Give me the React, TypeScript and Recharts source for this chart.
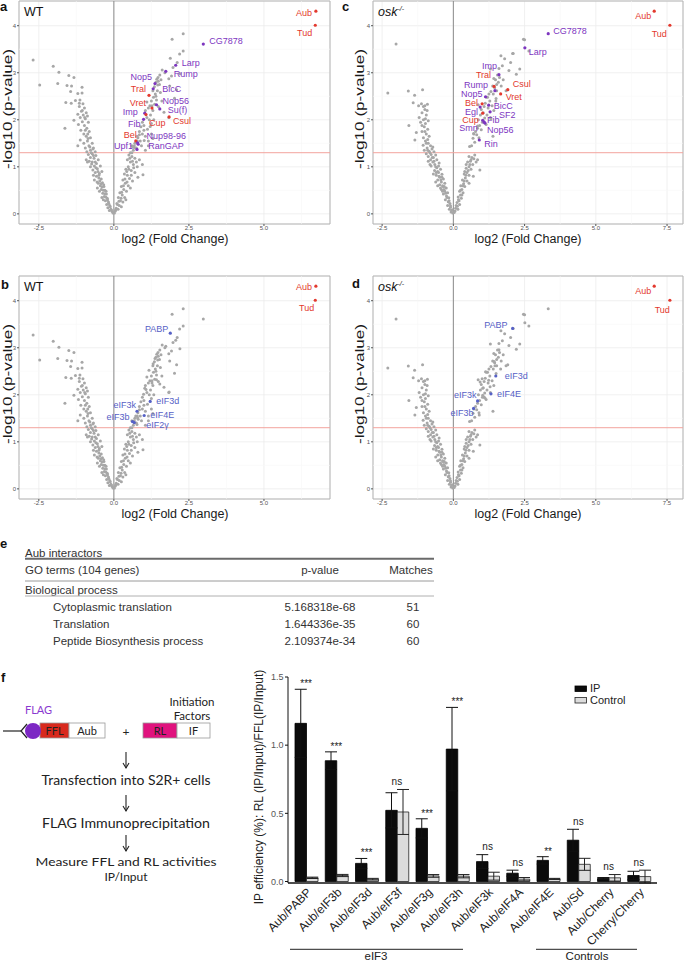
import React from 'react'
import {
  ScatterChart, Scatter, XAxis, YAxis, CartesianGrid, ReferenceLine, ReferenceArea,
  BarChart, Bar, ErrorBar, ReferenceDot,
} from 'recharts'

type Pt = [number, number]
type Named = { name: string; x: number; y: number; group: 'known' | 'novel' | 'factor' }
type LabelPos = [number, number, 'start' | 'end']

// ---- volcano data: [log2 fold change, -log10 p] ----
const wtBackground: Pt[] = [
  [-2.69, 3.27], [-2.47, 2.74], [-2.02, 3.14], [-1.83, 3.01], [-1.87, 2.77], [-1.5, 2.94], [-1.33, 2.9],
  [-1.56, 2.73], [-1.41, 2.72], [-1.06, 2.69], [-1.44, 2.6], [-1.2, 2.56], [-1.06, 2.57], [-1.6, 2.37],
  [-1.42, 2.35], [-1.28, 2.41], [-1.13, 2.42], [-1.03, 2.34], [-1.63, 1.82], [-1.33, 1.99],
  [-1.15, 2.28], [-0.98, 2.25], [-1.08, 2.18], [-0.92, 2.15], [-1.2, 2.12], [-1.02, 2.1], [-0.88, 2.08],
  [-1.12, 2.05], [-0.95, 2.02], [-1.05, 1.96], [-0.85, 1.95], [-1.18, 1.9], [-0.98, 1.88], [-0.9, 1.82],
  [-1.1, 1.78], [-0.82, 1.75], [-1.0, 1.7], [-0.92, 1.65], [-1.12, 1.57], [-0.78, 1.62], [-0.88, 1.55],
  [-1.0, 1.5], [-0.72, 1.5], [-0.83, 1.45], [-0.95, 1.4], [-0.68, 1.4], [-0.78, 1.35], [-0.9, 1.32],
  [-1.2, 1.45], [-0.62, 1.32], [-0.72, 1.28], [-0.85, 1.26], [-0.6, 1.24], [-0.78, 1.2], [-0.66, 1.18],
  [-0.52, 1.15], [-0.82, 1.12], [-0.72, 1.1], [-0.58, 1.07], [-0.65, 1.02], [-0.78, 1.0], [-0.45, 1.02],
  [-0.55, 0.96], [-0.7, 0.93], [-0.62, 0.88], [-0.48, 0.86], [-0.4, 0.9], [-0.58, 0.8], [-0.5, 0.76],
  [-0.42, 0.74], [-0.65, 0.72], [-0.38, 0.66], [-0.52, 0.65], [-0.45, 0.6], [-0.33, 0.58], [-0.42, 0.52],
  [-0.3, 0.5], [-0.48, 0.48], [-0.37, 0.44], [-0.25, 0.42], [-0.32, 0.37], [-0.22, 0.33], [-0.4, 0.35],
  [-0.28, 0.28], [-0.18, 0.25], [-0.24, 0.2], [-0.14, 0.18], [-0.2, 0.13], [-0.1, 0.1], [-0.15, 0.07],
  [-0.06, 0.05], [-0.03, 0.02], [-0.35, 0.3], [-0.55, 0.55], [-0.92, 1.15],
  [-0.12, 0.15], [-0.17, 0.22], [-0.21, 0.3], [-0.27, 0.36], [-0.3, 0.43], [-0.35, 0.5], [-0.39, 0.57],
  [-0.43, 0.64], [-0.47, 0.7], [-0.5, 0.82], [-0.53, 0.9], [-0.6, 0.98], [-0.62, 1.1], [-0.68, 1.24],
  [-0.75, 1.3], [-0.8, 1.42], [-0.86, 1.6], [-0.95, 1.78], [-1.05, 2.2], [-0.08, 0.08], [-0.26, 0.48],
  [-0.34, 0.62], [-0.56, 0.68], [-0.68, 0.82], [-0.74, 1.06], [-0.88, 1.1], [-0.7, 1.38], [-0.87, 1.7],
  [-0.97, 2.05], [-1.15, 2.35],
  [2.31, 3.83], [1.94, 3.71], [2.31, 3.46], [2.19, 3.4], [2.11, 3.22], [1.97, 3.11], [1.61, 3.06],
  [1.7, 3.0], [2.2, 2.98], [1.53, 2.95], [1.47, 2.9], [1.43, 2.86], [1.48, 2.82], [1.4, 2.8], [1.52, 2.75],
  [1.83, 2.87], [1.92, 2.93], [1.86, 2.72], [2.09, 2.64], [2.02, 2.46], [1.35, 2.7], [1.3, 2.62],
  [1.45, 2.62], [1.38, 2.55], [1.55, 2.58], [1.32, 2.48], [1.42, 2.42], [1.6, 2.4], [1.25, 2.4],
  [1.36, 2.33], [1.2, 2.3], [1.48, 2.28], [1.3, 2.2], [1.1, 2.38], [1.15, 2.25], [1.67, 2.16], [1.83, 2.05],
  [1.33, 2.0], [1.05, 2.2], [1.22, 2.1], [1.1, 2.05], [0.95, 1.95], [1.0, 1.88], [1.12, 1.8], [1.25, 1.92],
  [0.9, 1.85], [0.85, 1.75], [0.95, 1.7], [1.05, 1.65], [0.8, 1.62], [0.88, 1.55], [1.15, 1.55], [0.7, 1.5],
  [0.75, 1.4], [0.92, 1.45], [0.65, 1.35], [0.6, 1.45], [1.05, 1.35], [0.55, 1.3], [1.25, 1.7], [1.3, 1.6],
  [1.15, 1.45], [0.5, 1.25], [0.6, 1.22], [0.7, 1.18], [0.85, 1.15], [0.45, 1.15], [0.55, 1.1], [0.65, 1.05],
  [0.95, 1.05], [0.78, 1.0], [0.97, 0.83], [0.48, 1.0], [0.4, 0.95], [0.58, 0.92], [0.7, 0.88], [0.35, 0.85],
  [0.45, 0.82], [0.52, 0.75], [0.62, 0.7], [0.3, 0.72], [0.38, 0.65], [0.48, 0.6], [0.25, 0.58], [0.33, 0.52],
  [0.42, 0.48], [0.2, 0.45], [0.28, 0.4], [0.36, 0.35], [0.15, 0.35], [0.22, 0.28], [0.3, 0.25], [0.1, 0.22],
  [0.18, 0.18], [0.08, 0.12], [0.14, 0.1], [0.05, 0.06], [0.02, 0.02], [0.25, 0.15], [0.55, 0.55],
  [0.8, 0.78], [0.4, 0.3],
  [0.06, 0.09], [0.12, 0.2], [0.17, 0.27], [0.24, 0.33], [0.26, 0.46], [0.32, 0.6], [0.37, 0.74],
  [0.43, 0.9], [0.5, 0.95], [0.53, 1.18], [0.6, 1.3], [0.68, 1.45], [0.78, 1.55], [0.85, 1.68], [1.0, 1.78],
  [1.18, 2.0], [1.27, 2.3], [1.4, 2.5], [1.46, 2.74], [1.57, 2.85], [0.44, 0.68], [0.58, 0.82], [0.66, 0.98],
  [0.75, 1.1], [0.62, 1.12],
]

const oskBackground: Pt[] = [
  [-2.01, 3.61], [-2.3, 2.57], [-1.58, 2.61], [-1.08, 2.64], [-1.36, 2.52], [-1.41, 2.36], [-1.12, 2.34],
  [-0.91, 2.33], [-1.56, 1.88], [-1.0, 2.22], [-1.1, 2.15], [-0.95, 2.1], [-1.2, 2.05], [-1.05, 2.0],
  [-0.88, 1.98], [-1.3, 1.73], [-1.35, 1.57],
  [-1.05, 2.28], [-0.92, 2.2], [-1.15, 1.95], [-0.98, 1.92], [-1.02, 1.85], [-0.9, 1.8], [-1.1, 1.75],
  [-0.95, 1.7], [-1.05, 1.62], [-0.85, 1.65], [-0.98, 1.55], [-0.88, 1.5], [-1.06, 1.46], [-0.8, 1.45],
  [-0.92, 1.4], [-0.75, 1.38], [-1.02, 1.35], [-0.85, 1.33], [-0.68, 1.32], [-0.95, 1.28], [-0.78, 1.26],
  [-0.62, 1.25], [-0.88, 1.22], [-0.7, 1.2], [-0.8, 1.15], [-0.58, 1.15], [-0.72, 1.1], [-0.65, 1.05],
  [-0.5, 1.08], [-0.78, 1.02], [-0.58, 0.98], [-0.45, 0.95], [-0.66, 0.92], [-0.52, 0.88], [-0.4, 0.84],
  [-0.6, 0.82], [-0.48, 0.78], [-0.35, 0.74], [-0.55, 0.72], [-0.42, 0.68], [-0.3, 0.65], [-0.48, 0.62],
  [-0.36, 0.58], [-0.25, 0.55], [-0.42, 0.52], [-0.3, 0.48], [-0.2, 0.45], [-0.35, 0.42], [-0.24, 0.38],
  [-0.16, 0.34], [-0.28, 0.3], [-0.18, 0.26], [-0.12, 0.22], [-0.2, 0.18], [-0.1, 0.14], [-0.14, 0.1],
  [-0.06, 0.07], [-0.08, 0.04], [-0.02, 0.02], [-0.45, 0.55], [-0.62, 0.68], [-0.7, 0.85], [-0.38, 0.48],
  [-0.55, 0.6], [-0.82, 1.05],
  [-0.1, 0.17], [-0.15, 0.28], [-0.22, 0.35], [-0.27, 0.44], [-0.33, 0.52], [-0.38, 0.6], [-0.44, 0.72],
  [-0.5, 0.8], [-0.55, 0.9], [-0.62, 1.0], [-0.68, 1.12], [-0.74, 1.2], [-0.82, 1.3], [-0.9, 1.35],
  [-0.95, 1.5], [-1.0, 1.75], [-0.98, 2.02], [-1.0, 2.3], [-0.04, 0.09], [-0.32, 0.58], [-0.4, 0.78],
  [-0.6, 0.88], [-0.52, 1.02], [-0.88, 1.12], [-0.72, 1.42], [-0.9, 1.58], [-1.1, 1.88], [-1.22, 2.3],
  [0.55, 1.22], [0.65, 1.2], [0.72, 1.17], [0.6, 1.12], [0.5, 1.1], [0.68, 1.05], [0.8, 1.1], [0.55, 1.0],
  [0.45, 0.97], [0.62, 0.95], [0.93, 0.93], [0.48, 0.88], [0.38, 0.85], [0.55, 0.82], [0.42, 0.76],
  [0.32, 0.72], [0.48, 0.7], [0.36, 0.64], [0.26, 0.6], [0.4, 0.58], [0.3, 0.52], [0.22, 0.48], [0.34, 0.45],
  [0.25, 0.4], [0.17, 0.36], [0.28, 0.33], [0.2, 0.28], [0.13, 0.24], [0.22, 0.2], [0.14, 0.16], [0.08, 0.12],
  [0.16, 0.1], [0.06, 0.06], [0.03, 0.03], [0.7, 0.8], [0.85, 1.15],
  [0.1, 0.18], [0.18, 0.3], [0.25, 0.5], [0.33, 0.6], [0.38, 0.7], [0.44, 0.82], [0.52, 0.92], [0.58, 1.05],
  [0.62, 1.15], [0.45, 1.05], [0.75, 1.25], [0.3, 0.4], [0.4, 0.9], [0.55, 0.65],
  [0.57, 1.43], [0.69, 1.61], [0.98, 1.79], [1.39, 1.65], [1.1, 2.04], [0.75, 1.52], [0.82, 1.68],
  [0.9, 1.62], [0.78, 1.75], [0.92, 1.88], [1.02, 1.95], [1.15, 1.9], [0.88, 2.0], [1.18, 2.1], [1.05, 2.15],
  [0.98, 2.22], [1.22, 2.25], [1.3, 2.05], [1.12, 2.35], [1.28, 2.4], [1.36, 2.3], [1.2, 2.48], [1.4, 2.55],
  [1.32, 2.6], [1.45, 2.68], [1.52, 2.75], [1.48, 2.85], [1.58, 2.8], [1.62, 2.9], [1.55, 2.95], [1.68, 2.72],
  [1.75, 2.85], [1.3, 3.08], [1.6, 3.09], [2.01, 3.22], [1.95, 3.05], [2.21, 2.97], [2.33, 3.08], [2.1, 3.41],
  [1.67, 3.36], [2.46, 3.71], [2.5, 3.7], [2.65, 3.46], [1.16, 2.48], [0.87, 2.32], [1.72, 3.15],
  [1.8, 3.3], [1.5, 2.45], [1.85, 2.62], [1.42, 2.2],
  [0.64, 1.45], [0.72, 1.7], [0.85, 1.82], [0.95, 2.1], [1.08, 2.28], [1.25, 2.55], [1.38, 2.72],
  [1.42, 2.88], [1.52, 2.62],
]

const wtBaits: Named[] = [
  { name: 'Aub', x: 6.73, y: 4.31, group: 'known' },
  { name: 'Tud', x: 6.71, y: 4.01, group: 'known' },
]
const oskBaits: Named[] = [
  { name: 'Aub', x: 7.05, y: 4.31, group: 'known' },
  { name: 'Tud', x: 7.6, y: 4.01, group: 'known' },
]

const wtInteractors: Named[] = [
  { name: 'CG7878', x: 2.98, y: 3.61, group: 'novel' },
  { name: 'Larp', x: 2.06, y: 3.16, group: 'novel' },
  { name: 'Rump', x: 1.73, y: 3.03, group: 'novel' },
  { name: 'Nop5', x: 1.37, y: 2.77, group: 'novel' },
  { name: 'BicC', x: 1.31, y: 2.66, group: 'novel' },
  { name: 'Tral', x: 1.17, y: 2.52, group: 'known' },
  { name: 'Nop56', x: 1.42, y: 2.32, group: 'novel' },
  { name: 'Vret', x: 1.27, y: 2.25, group: 'known' },
  { name: 'Su(f)', x: 1.53, y: 2.23, group: 'novel' },
  { name: 'Imp', x: 1.03, y: 2.14, group: 'novel' },
  { name: 'Cup', x: 1.07, y: 2.11, group: 'known' },
  { name: 'Csul', x: 1.84, y: 2.06, group: 'known' },
  { name: 'Fib', x: 0.99, y: 2.01, group: 'novel' },
  { name: 'Bel', x: 0.73, y: 1.55, group: 'known' },
  { name: 'Nup98-96', x: 0.79, y: 1.51, group: 'novel' },
  { name: 'RanGAP', x: 0.81, y: 1.48, group: 'novel' },
  { name: 'Upf1', x: 0.77, y: 1.37, group: 'novel' },
]

const oskInteractors: Named[] = [
  { name: 'CG7878', x: 3.33, y: 3.83, group: 'novel' },
  { name: 'Larp', x: 2.51, y: 3.53, group: 'novel' },
  { name: 'Imp', x: 1.6, y: 2.96, group: 'novel' },
  { name: 'Tral', x: 1.43, y: 2.71, group: 'known' },
  { name: 'Rump', x: 1.46, y: 2.62, group: 'novel' },
  { name: 'Csul', x: 1.91, y: 2.64, group: 'known' },
  { name: 'Vret', x: 1.66, y: 2.55, group: 'known' },
  { name: 'Nop5', x: 1.13, y: 2.49, group: 'novel' },
  { name: 'Bel', x: 1.01, y: 2.34, group: 'known' },
  { name: 'BicC', x: 1.24, y: 2.31, group: 'novel' },
  { name: 'Egl', x: 0.94, y: 2.27, group: 'novel' },
  { name: 'SF2', x: 1.29, y: 2.17, group: 'novel' },
  { name: 'Cup', x: 1.03, y: 2.14, group: 'known' },
  { name: 'Smn', x: 1.03, y: 1.99, group: 'novel' },
  { name: 'Fib', x: 1.08, y: 1.95, group: 'novel' },
  { name: 'Nop56', x: 1.11, y: 1.93, group: 'novel' },
  { name: 'Rin', x: 0.91, y: 1.57, group: 'novel' },
]

const wtFactors: Named[] = [
  { name: 'PABP', x: 1.88, y: 3.31, group: 'factor' },
  { name: 'eIF3d', x: 1.21, y: 1.86, group: 'factor' },
  { name: 'eIF3k', x: 0.77, y: 1.65, group: 'factor' },
  { name: 'eIF4E', x: 1.01, y: 1.56, group: 'factor' },
  { name: 'eIF3b', x: 0.62, y: 1.43, group: 'factor' },
  { name: 'eIF2γ', x: 0.68, y: 1.41, group: 'factor' },
]

const oskFactors: Named[] = [
  { name: 'PABP', x: 2.08, y: 3.41, group: 'factor' },
  { name: 'eIF3d', x: 1.49, y: 2.4, group: 'factor' },
  { name: 'eIF4E', x: 1.32, y: 2.02, group: 'factor' },
  { name: 'eIF3k', x: 0.85, y: 1.87, group: 'factor' },
  { name: 'eIF3b', x: 0.71, y: 1.71, group: 'factor' },
]

const wtXTicks = [-2.5, 0, 2.5, 5]
const oskXTicks = [-2.5, 0, 2.5, 5, 7.5]
const minorXTicks = [-1.25, 1.25, 3.75, 6.25]
const pTicks = [0, 1, 2, 3, 4]
const minorPTicks = [0.5, 1.5, 2.5, 3.5]
const pCutoff = 1.3

// ---- bar chart data (panel f) ----
const barCategories = [
  'Aub/PABP', 'Aub/eIF3b', 'Aub/eIF3d', 'Aub/eIF3f', 'Aub/eIF3g', 'Aub/eIF3h',
  'Aub/eIF3k', 'Aub/eIF4A', 'Aub/eIF4E', 'Aub/Sd', 'Aub/Cherry', 'Cherry/Cherry',
]
const ipValues = [1.16, 0.886, 0.133, 0.522, 0.39, 0.971, 0.146, 0.061, 0.155, 0.303, 0.022, 0.044]
const ipErrors = [0.25, 0.065, 0.036, 0.129, 0.07, 0.306, 0.051, 0.022, 0.027, 0.08, 0.007, 0.031]
const controlValues = [0.027, 0.044, 0.017, 0.51, 0.041, 0.039, 0.039, 0.017, 0.019, 0.126, 0.027, 0.036]
const controlErrors = [0.005, 0.008, 0.006, 0.165, 0.01, 0.012, 0.029, 0.012, 0.004, 0.044, 0.024, 0.047]
const significance = ['***', '***', '***', 'ns', '***', '***', 'ns', 'ns', '**', 'ns', 'ns', 'ns']
const efficiencyTicks = [0, 0.5, 1, 1.5]

// ---- table data (panel e) ----
const goTerms = ['Cytoplasmic translation', 'Translation', 'Peptide Biosynthesis process']
const goPValues = ['5.168318e-68', '1.644336e-35', '2.109374e-34']
const goMatches = [51, 60, 60]

// label placement (px offsets from the dot), kept apart from the data
const labelsA: Record<string, LabelPos> = {
  Aub: [-4, 5, 'end'], Tud: [-3, 11, 'end'], CG7878: [6, 0, 'start'], Larp: [6, 1, 'start'],
  Rump: [8, 6, 'start'], Nop5: [-3, -4, 'end'], BicC: [9, 3, 'start'], Tral: [-3, -3, 'end'],
  Nop56: [6, -1, 'start'], Vret: [-6, -2, 'end'], 'Su(f)': [8, 4, 'start'], Imp: [-7, 2, 'end'],
  Cup: [3, 11, 'start'], Csul: [4, 7, 'start'], Fib: [-3, 8, 'end'], Bel: [1, -3, 'end'],
  'Nup98-96': [9, -4, 'start'], RanGAP: [10, 5, 'start'], Upf1: [-4, 0, 'end'],
}
const labelsC: Record<string, LabelPos> = {
  Aub: [-3, 8, 'end'], Tud: [-3, 12, 'end'], CG7878: [5, 0, 'start'], Larp: [4, 7, 'start'],
  Imp: [-2, -6, 'end'], Tral: [-3, -8, 'end'], Rump: [-7, -3, 'end'], Csul: [5, -3, 'start'],
  Vret: [5, 6, 'start'], Nop5: [-3, 0, 'end'], Bel: [-4, 2, 'end'], BicC: [5, 4, 'start'],
  Egl: [-2, 8, 'end'], SF2: [9, 6, 'start'], Cup: [-4, 10, 'end'], Fib: [3, 1, 'start'],
  Smn: [-5, 11, 'end'], Nop56: [2, 10, 'start'], Rin: [5, 7, 'start'],
}
const labelsB: Record<string, LabelPos> = {
  Aub: [-4, 4, 'end'], Tud: [-1, 11, 'end'], PABP: [-2, -1, 'end'], eIF3d: [6, 3, 'start'],
  eIF3k: [-1, -3, 'end'], eIF4E: [6, 3, 'start'], eIF3b: [-3, -2, 'end'], 'eIF2γ': [12, 5, 'start'],
}
const labelsD: Record<string, LabelPos> = {
  Aub: [-3, 8, 'end'], Tud: [0, 13, 'end'], PABP: [-5, 0, 'end'], eIF3d: [9, 3, 'start'],
  eIF4E: [6, 3, 'start'], eIF3k: [-1, -3, 'end'], eIF3b: [0, 8, 'end'],
}

const groupColor = { known: '#e3392e', novel: '#7d36bf', factor: '#5661c6' }
const sans = '"Liberation Sans", Arial, sans-serif'
const yDomain: [number, number] = [-0.2155, 4.5255]

type VolcanoProps = {
  left: number; top: number; width: number; axisWidth: number; rightPad: number
  xDomain: [number, number]; xTicks: number[]
  background: Pt[]; muted: Named[]; shown: Named[]; labels: Record<string, LabelPos>
}

function Volcano({ left, top, width, axisWidth, rightPad, xDomain, xTicks, background, muted, shown, labels }: VolcanoProps) {
  const gray = [...background.map(([x, y]) => ({ x, y })), ...muted.map((p) => ({ x: p.x, y: p.y }))]
  const grayDot = (p: any) => <circle cx={p.cx} cy={p.cy} r={1.5} fill="#a7a7a7" />
  const namedDot = (p: any) => {
    const n: Named = p.payload
    const [dx, dy, anchor] = labels[n.name] || [5, 3, 'start']
    const c = groupColor[n.group]
    return (
      <g>
        <circle cx={p.cx} cy={p.cy} r={1.6} fill={c} />
        <text x={p.cx + dx} y={p.cy + dy} textAnchor={anchor} fontSize={9} fill={c} fontFamily={sans}>{n.name}</text>
      </g>
    )
  }
  return (
    <div style={{ position: 'absolute', left, top }}>
      <ScatterChart width={width} height={250} margin={{ top: 1, right: rightPad, bottom: 0, left: 0 }}>
        <CartesianGrid stroke="#ececec" strokeWidth={0.8} />
        {minorXTicks.map((v) => <ReferenceLine key={'mx' + v} x={v} stroke="#f6f6f6" strokeWidth={0.6} />)}
        {minorPTicks.map((v) => <ReferenceLine key={'my' + v} y={v} stroke="#f6f6f6" strokeWidth={0.6} />)}
        <XAxis type="number" dataKey="x" domain={xDomain} ticks={xTicks} interval={0} height={26}
          tickFormatter={(v: number) => v.toFixed(1)} axisLine={false} tickSize={2} tickMargin={0}
          tickLine={{ stroke: '#555' }} tick={{ fontSize: 6, fill: '#555' }} />
        <YAxis type="number" dataKey="y" domain={yDomain} ticks={pTicks} interval={0} width={axisWidth}
          axisLine={false} tickSize={2} tickMargin={1} tickLine={{ stroke: '#555' }} tick={{ fontSize: 6, fill: '#555' }} />
        <ReferenceLine x={0} stroke="#8c8c8c" strokeWidth={1} />
        <ReferenceLine y={pCutoff} stroke="#f3a49e" strokeWidth={1} />
        <Scatter data={gray} shape={grayDot} isAnimationActive={false} />
        <Scatter data={shown} shape={namedDot} isAnimationActive={false} />
        <ReferenceArea x1={xDomain[0]} x2={xDomain[1]} y1={yDomain[0]} y2={yDomain[1]} fill="none"
          fillOpacity={0} stroke="#b5b5b5" strokeWidth={1} ifOverflow="visible" />
      </ScatterChart>
    </div>
  )
}

function AngledTick(props: any) {
  const { x, y, payload } = props
  const tx = x + 6
  const ty = y + 10
  return (
    <text x={tx} y={ty} transform={`rotate(-45 ${tx} ${ty})`} textAnchor="end" fontSize={12} fill="#222" fontFamily={sans}>
      {payload.value}
    </text>
  )
}

function SigLabel(props: any) {
  const { viewBox, text } = props
  const cx = viewBox.x + (viewBox.width || 0) / 2
  const cy = viewBox.y + (viewBox.height || 0) / 2
  const off = text === 'ns' ? 4.5 : 2
  return <text x={cx} y={cy - off} textAnchor="middle" fontSize={10} fill="#222" fontFamily={sans}>{text}</text>
}

function Arrow({ x, y1, y2 }: { x: number; y1: number; y2: number }) {
  return (
    <g stroke="#222" strokeWidth={1.1} fill="none">
      <line x1={x} y1={y1} x2={x} y2={y2} />
      <path d={`M${x - 3} ${y2 - 5} L${x} ${y2} L${x + 3} ${y2 - 5}`} />
    </g>
  )
}

export default function App() {
  const barData = barCategories.map((name, i) => ({
    name, ip: ipValues[i], ipErr: ipErrors[i], control: controlValues[i], controlErr: controlErrors[i],
  }))
  const lato = 'Lato, "Open Sans", sans-serif'
  const tableRows = [610.5, 627.5, 645]

  return (
    <div style={{ position: 'absolute', left: 0, top: 0, width: 685, height: 963, background: '#fff', fontFamily: sans, overflow: 'hidden' }}>
      <Volcano left={0} top={0} width={335} axisWidth={19} rightPad={5} xDomain={[-3.16, 7.2]} xTicks={wtXTicks}
        background={wtBackground} muted={wtFactors} shown={[...wtBaits, ...wtInteractors]} labels={labelsA} />
      <Volcano left={340} top={0} width={345} axisWidth={33} rightPad={2} xDomain={[-2.82, 8.06]} xTicks={oskXTicks}
        background={oskBackground} muted={oskFactors} shown={[...oskBaits, ...oskInteractors]} labels={labelsC} />
      <Volcano left={0} top={275} width={335} axisWidth={19} rightPad={5} xDomain={[-3.16, 7.2]} xTicks={wtXTicks}
        background={wtBackground} muted={wtInteractors} shown={[...wtBaits, ...wtFactors]} labels={labelsB} />
      <Volcano left={340} top={275} width={345} axisWidth={33} rightPad={2} xDomain={[-2.82, 8.06]} xTicks={oskXTicks}
        background={oskBackground} muted={oskInteractors} shown={[...oskBaits, ...oskFactors]} labels={labelsD} />

      <div style={{ position: 'absolute', left: 240, top: 660 }}>
        <BarChart width={445} height={303} data={barData} margin={{ top: 17, right: 28, bottom: 0, left: 0 }} barGap={0} barSize={11.5}>
          <XAxis dataKey="name" height={80} interval={0} tick={<AngledTick />} tickLine={false} tickSize={0} tickMargin={0}
            axisLine={{ stroke: '#111', strokeWidth: 1.3 }} padding={{ left: 3, right: 3 }} />
          <YAxis domain={[0, 1.5]} ticks={efficiencyTicks} interval={0} tickFormatter={(v: number) => v.toFixed(1)} width={48}
            axisLine={{ stroke: '#111' }} tickLine={{ stroke: '#111' }} tickSize={3} tickMargin={1.5} tick={{ fontSize: 9, fill: '#555' }} />
          <Bar dataKey="ip" fill="#0b0b0b" stroke="#000" strokeWidth={0.8} isAnimationActive={false}>
            <ErrorBar dataKey="ipErr" width={6} stroke="#111" strokeWidth={1} />
          </Bar>
          <Bar dataKey="control" fill="#dcdcdc" stroke="#222" strokeWidth={0.8} isAnimationActive={false}>
            <ErrorBar dataKey="controlErr" width={6} stroke="#222" strokeWidth={1} />
          </Bar>
          {barData.map((d, i) => (
            <ReferenceDot key={d.name} x={d.name} y={Math.max(d.ip + d.ipErr, d.control + d.controlErr)} r={0}
              fill="none" stroke="none" ifOverflow="visible" label={<SigLabel text={significance[i]} />} />
          ))}
        </BarChart>
      </div>

      <svg width={685} height={963} style={{ position: 'absolute', left: 0, top: 0, pointerEvents: 'none' }}>
        {/* panel letters */}
        <g fontWeight="bold" fontSize={13} fill="#111" fontFamily={sans}>
          <text x={0} y={10.5}>a</text>
          <text x={342} y={10.5}>c</text>
          <text x={1} y={289}>b</text>
          <text x={352} y={288}>d</text>
          <text x={0} y={548}>e</text>
          <text x={1} y={681.5}>f</text>
        </g>
        {/* genotype tags */}
        <g fontSize={12.5} fill="#111" fontFamily={sans}>
          <text x={24} y={15.5}>WT</text>
          <text x={24} y={290.5}>WT</text>
          <text x={378} y={15.5} fontStyle="italic">osk<tspan fontSize={7} dy={-5}>-/-</tspan></text>
          <text x={378} y={290.5} fontStyle="italic">osk<tspan fontSize={7} dy={-5}>-/-</tspan></text>
        </g>
        {/* volcano axis titles */}
        <g fontSize={12.5} fill="#1a1a1a" fontFamily={sans} textAnchor="middle">
          <text x={175} y={243}>log2 (Fold Change)</text>
          <text x={528} y={243}>log2 (Fold Change)</text>
          <text x={175} y={518}>log2 (Fold Change)</text>
          <text x={528} y={518}>log2 (Fold Change)</text>
          {[[7.5, 109], [359, 109], [7.5, 384], [359, 384]].map(([cx, cy]) => (
            <text key={cx + '-' + cy} transform={`translate(${cx} ${cy}) rotate(-90)`} y={4.5}
              textLength={120} lengthAdjust="spacingAndGlyphs">-log10 (p-value)</text>
          ))}
        </g>

        {/* panel e table */}
        <g fontSize={11.5} fill="#333" fontFamily={sans}>
          <text x={25} y={556.5}>Aub interactors</text>
          <line x1={25} x2={434} y1={558.8} y2={558.8} stroke="#6a6a6a" strokeWidth={2} />
          <text x={25} y={574}>GO terms (104 genes)</text>
          <text x={320} y={574} textAnchor="middle">p-value</text>
          <text x={411} y={574} textAnchor="middle">Matches</text>
          <line x1={25} x2={434} y1={581} y2={581} stroke="#9a9a9a" strokeWidth={1} />
          <text x={25} y={593.5}>Biological process</text>
          <line x1={25} x2={434} y1={596} y2={596} stroke="#b0b0b0" strokeWidth={1} />
          {goTerms.map((t, i) => (
            <g key={t}>
              <text x={53} y={tableRows[i]}>{t}</text>
              <text x={320} y={tableRows[i]} textAnchor="middle">{goPValues[i]}</text>
              <text x={413} y={tableRows[i]} textAnchor="middle">{goMatches[i]}</text>
            </g>
          ))}
        </g>

        {/* panel f schematic */}
        <g fontFamily={lato} fill="#222">
          <text x={25} y={714} fontSize={11} fill="#8a3ad0">FLAG</text>
          <g stroke="#222" strokeWidth={1.2} fill="none">
            <line x1={3} y1={731} x2={21} y2={731} />
            <path d="M27 724 L21 731 L27 738" />
          </g>
          <rect x={40} y={723} width={29} height={15} fill="#d8291d" stroke="#999" strokeWidth={0.8} />
          <rect x={69} y={723} width={36} height={15} fill="#fff" stroke="#999" strokeWidth={0.8} />
          <circle cx={33} cy={731} r={8} fill="#7c27c4" />
          <text x={54.5} y={735} fontSize={11} textAnchor="middle">FFL</text>
          <text x={87} y={735} fontSize={11} textAnchor="middle">Aub</text>
          <text x={126} y={736} fontSize={12} textAnchor="middle">+</text>
          <text x={192} y={706} fontSize={11.5} textAnchor="middle">Initiation</text>
          <text x={192} y={720} fontSize={11.5} textAnchor="middle">Factors</text>
          <rect x={143} y={723} width={34} height={15} fill="#e0137e" stroke="#999" strokeWidth={0.8} />
          <rect x={177} y={723} width={33} height={15} fill="#fff" stroke="#999" strokeWidth={0.8} />
          <text x={160} y={735} fontSize={11} textAnchor="middle">RL</text>
          <text x={193.5} y={735} fontSize={11} textAnchor="middle">IF</text>
          <Arrow x={126} y1={752} y2={768} />
          <text x={126} y={785} fontSize={13} textAnchor="middle" textLength={169} lengthAdjust="spacingAndGlyphs">Transfection into S2R+ cells</text>
          <Arrow x={126} y1={795} y2={811} />
          <text x={126} y={828} fontSize={13} textAnchor="middle" textLength={168} lengthAdjust="spacingAndGlyphs">FLAG Immunoprecipitation</text>
          <Arrow x={126} y1={835} y2={851} />
          <text x={126} y={866} fontSize={12} textAnchor="middle" textLength={181} lengthAdjust="spacingAndGlyphs">Measure FFL and RL activities</text>
          <text x={126} y={880.5} fontSize={12} textAnchor="middle">IP/Input</text>
        </g>

        {/* bar chart extras */}
        <g fontFamily={sans} fill="#222">
          <text transform="translate(259 787) rotate(-90)" y={4} fontSize={12} textAnchor="middle">IP efficiency (%): RL (IP/Input)/FFL(IP/Input)</text>
          <rect x={575} y={686} width={11.5} height={5.5} fill="#0b0b0b" stroke="#000" strokeWidth={0.8} />
          <text x={590} y={692} fontSize={11}>IP</text>
          <rect x={575} y={697.5} width={11.5} height={5.5} fill="#dcdcdc" stroke="#222" strokeWidth={0.8} />
          <text x={590} y={704} fontSize={11}>Control</text>
          <line x1={290} x2={463} y1={949.3} y2={949.3} stroke="#222" strokeWidth={1} />
          <text x={376} y={960} fontSize={11.5} textAnchor="middle">eIF3</text>
          <line x1={536} x2={637} y1={949.3} y2={949.3} stroke="#222" strokeWidth={1} />
          <text x={587} y={960} fontSize={11.5} textAnchor="middle">Controls</text>
        </g>
      </svg>
    </div>
  )
}
